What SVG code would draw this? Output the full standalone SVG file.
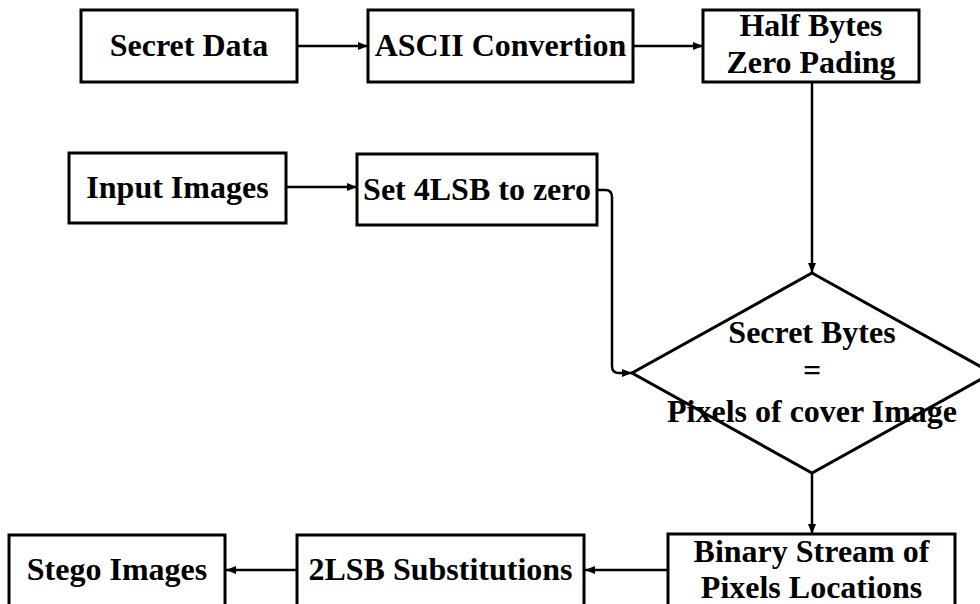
<svg xmlns="http://www.w3.org/2000/svg" width="980" height="604" viewBox="0 0 980 604">
<style>
.box{fill:#fff;stroke:#000;stroke-width:3}
.t{font-family:"Liberation Serif","Times New Roman",serif;font-weight:bold;font-size:32px;fill:#000;text-anchor:middle}
.c{fill:none;stroke:#000;stroke-width:2.5}
</style>
<defs>
<marker id="ah" markerWidth="10" markerHeight="8" refX="10" refY="4" orient="auto" markerUnits="userSpaceOnUse">
<path d="M0,0 L10,4 L0,8 Z" fill="#000"/>
</marker>
</defs>
<rect width="980" height="604" fill="#fff"/>
<g id="connectors">
<line class="c" x1="297" y1="46" x2="368" y2="46" marker-end="url(#ah)"/>
<line class="c" x1="633" y1="46" x2="703" y2="46" marker-end="url(#ah)"/>
<line class="c" x1="812" y1="82" x2="812" y2="273" marker-end="url(#ah)"/>
<line class="c" x1="286" y1="187" x2="357" y2="187" marker-end="url(#ah)"/>
<path class="c" d="M597,190 H605 Q612,190 612,197 V366 Q612,373 619,373 H632" marker-end="url(#ah)"/>
<line class="c" x1="812" y1="473" x2="812" y2="534" marker-end="url(#ah)"/>
<line class="c" x1="668" y1="570" x2="585" y2="570" marker-end="url(#ah)"/>
<line class="c" x1="297" y1="570" x2="226" y2="570" marker-end="url(#ah)"/>
</g>
<g id="secret-data">
<rect class="box" x="81" y="10" width="216" height="72"/>
<text class="t" x="189" y="56">Secret Data</text>
</g>
<g id="ascii-convertion">
<rect class="box" x="368" y="10" width="265" height="72"/>
<text class="t" x="500.5" y="56">ASCII Convertion</text>
</g>
<g id="half-bytes">
<rect class="box" x="703" y="10" width="216" height="72"/>
<text class="t" x="811" y="36">Half Bytes</text>
<text class="t" x="811" y="73">Zero Pading</text>
</g>
<g id="input-images">
<rect class="box" x="69" y="153" width="217" height="70"/>
<text class="t" x="177.5" y="198">Input Images</text>
</g>
<g id="set-4lsb">
<rect class="box" x="357" y="154" width="240" height="71"/>
<text class="t" x="477" y="200">Set 4LSB to zero</text>
</g>
<g id="decision">
<polygon class="box" points="812,273 992,373 812,473 632,373"/>
<text class="t" x="812" y="343">Secret Bytes</text>
<text class="t" x="812" y="381">=</text>
<text class="t" x="812" y="422">Pixels of cover Image</text>
</g>
<g id="binary-stream">
<rect class="box" x="668" y="534" width="287" height="90"/>
<text class="t" x="811.5" y="562">Binary Stream of</text>
<text class="t" x="811.5" y="598">Pixels Locations</text>
</g>
<g id="lsb-substitutions">
<rect class="box" x="297" y="535" width="287" height="90"/>
<text class="t" x="440.5" y="580">2LSB Substitutions</text>
</g>
<g id="stego-images">
<rect class="box" x="9" y="535" width="216" height="90"/>
<text class="t" x="117" y="580">Stego Images</text>
</g>
</svg>
